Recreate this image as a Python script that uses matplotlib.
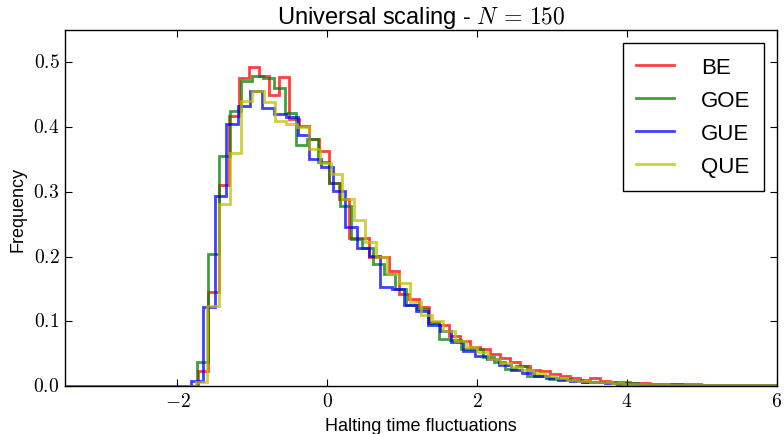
import numpy as np
import matplotlib
matplotlib.use("Agg")
import matplotlib.pyplot as plt
from matplotlib.ticker import FuncFormatter

# ---------------- data (histogram heights) -------------
series_names = ["BE", "GOE", "GUE", "QUE"]
series_colors = ["r", "g", "b", "y"]

left_edge = -3.5  # empty region of the histogram on the left

be_start, be_width = -1.72, 0.134
be_vals = [0.024, 0.146, 0.31, 0.417, 0.475, 0.492, 0.479, 0.449, 0.477, 0.413,
           0.402, 0.381, 0.363, 0.314, 0.289, 0.229, 0.229, 0.199, 0.2, 0.178,
           0.142, 0.135, 0.122, 0.099, 0.095, 0.078, 0.07, 0.06, 0.058, 0.05,
           0.044, 0.038, 0.031, 0.025, 0.023, 0.019, 0.016, 0.013, 0.01, 0.012,
           0.008, 0.007, 0.006, 0.005, 0.005, 0.004, 0.004, 0.003, 0.003, 0.003,
           0.002, 0.002, 0.002, 0.002, 0.0015, 0.0015, 0.0015, 0.0015]

goe_start, goe_width = -1.74, 0.147
goe_vals = [0.037, 0.204, 0.355, 0.425, 0.471, 0.479, 0.475, 0.461, 0.422, 0.373,
            0.381, 0.346, 0.314, 0.278, 0.227, 0.214, 0.188, 0.173, 0.15, 0.125,
            0.119, 0.098, 0.073, 0.072, 0.057, 0.057, 0.045, 0.037, 0.026, 0.031,
            0.016, 0.015, 0.011, 0.011, 0.009, 0.007, 0.006, 0.006, 0.005, 0.005,
            0.004, 0.003, 0.003, 0.003, 0.002, 0.002, 0.002, 0.002, 0.0015, 0.0015,
            0.0015, 0.0012, 0.0012]

gue_start, gue_width = -1.82, 0.158
gue_vals = [0.008, 0.122, 0.294, 0.404, 0.433, 0.456, 0.43, 0.42, 0.415, 0.387,
            0.35, 0.338, 0.301, 0.245, 0.214, 0.201, 0.153, 0.15, 0.125, 0.116,
            0.095, 0.085, 0.068, 0.055, 0.046, 0.042, 0.033, 0.025, 0.021, 0.015,
            0.013, 0.01, 0.008, 0.007, 0.006, 0.005, 0.004, 0.004, 0.003, 0.003,
            0.0025, 0.002, 0.002, 0.002, 0.0018, 0.0018, 0.0015, 0.0015, 0.0018, 0.0015]

que_start, que_width = -1.75, 0.15
que_vals = [0.006, 0.124, 0.281, 0.36, 0.44, 0.455, 0.438, 0.41, 0.405, 0.4,
            0.366, 0.345, 0.327, 0.289, 0.257, 0.222, 0.2, 0.173, 0.16, 0.13,
            0.11, 0.1, 0.085, 0.07, 0.06, 0.052, 0.042, 0.036, 0.03, 0.025,
            0.02, 0.016, 0.012, 0.01, 0.008, 0.007, 0.006, 0.005, 0.004, 0.004,
            0.003, 0.003, 0.0025, 0.002, 0.002, 0.002, 0.0018, 0.0015, 0.0015, 0.0015,
            0.0012, 0.0012]

starts = [be_start, goe_start, gue_start, que_start]
widths = [be_width, goe_width, gue_width, que_width]
values = [be_vals, goe_vals, gue_vals, que_vals]

x_ticks = [-2, 0, 2, 4, 6]
y_ticks = [0.0, 0.1, 0.2, 0.3, 0.4, 0.5]

# ---------------- style -------------------------------------------------------
plt.style.use("classic")
plt.rcParams["font.family"] = ["Liberation Sans", "DejaVu Sans"]
plt.rcParams["mathtext.fontset"] = "cm"

fig = plt.figure(figsize=(7.84, 4.35), dpi=100, facecolor="white")
ax = fig.add_axes([0.083, 0.110, 0.908, 0.819])
ax.set_facecolor("white")

for name, col, st, w, vals in zip(series_names, series_colors, starts, widths, values):
    vals = np.asarray(vals, dtype=float)
    edges = st + w * np.arange(len(vals) + 1)
    edges = np.concatenate([[left_edge], edges])
    heights = np.concatenate([[0.0], vals])
    ax.stairs(heights, edges, color=col, linewidth=2, alpha=0.75, label=name)

ax.set_xlim(-3.5, 6)
ax.set_ylim(0, 0.55)
ax.set_xticks(x_ticks)
ax.set_yticks(y_ticks)
ax.xaxis.set_major_formatter(FuncFormatter(lambda v, p: r"$%d$" % v))
ax.yaxis.set_major_formatter(FuncFormatter(lambda v, p: r"$%.1f$" % v))
ax.tick_params(axis="both", which="major", labelsize=14, direction="in",
               length=5, width=0.8, top=True, right=True)
for s in ax.spines.values():
    s.set_linewidth(1.0)

ax.set_title(r"Universal scaling - $N\,=\,150$", fontsize=17)
ax.set_xlabel("Halting time fluctuations", fontsize=13)
ax.set_ylabel("Frequency", fontsize=13)

leg = ax.legend(loc="upper right", fontsize=16, frameon=True, fancybox=False,
                handlelength=1.7, handletextpad=1.2, labelspacing=0.55,
                borderpad=0.6, borderaxespad=0.6)
leg.get_frame().set_edgecolor("black")
leg.get_frame().set_linewidth(1.0)

fig.savefig("out.png", dpi=100, facecolor="white")
